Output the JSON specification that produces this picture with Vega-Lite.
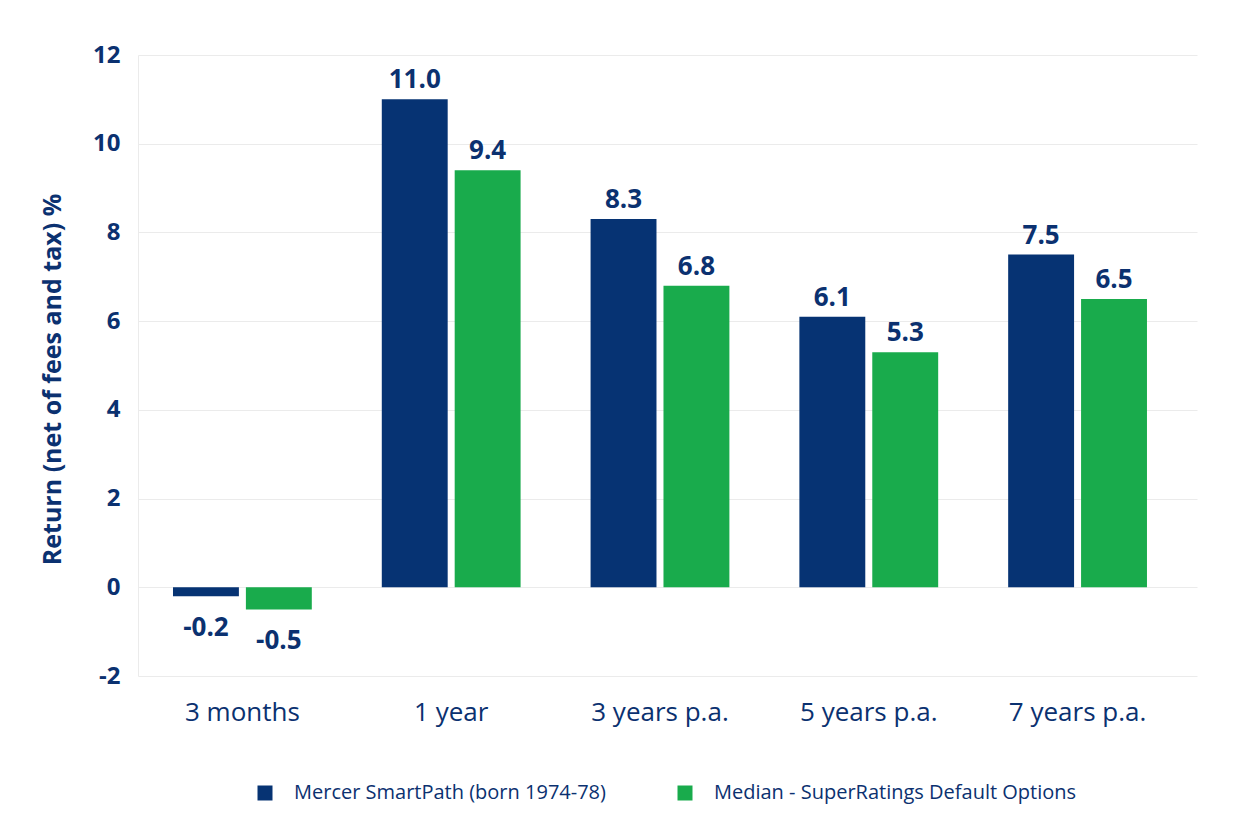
{
  "$schema": "https://vega.github.io/schema/vega-lite/v6.json",
  "width": 1059,
  "height": 621,
  "autosize": {"type": "none"},
  "padding": {"left": 138, "top": 55, "right": 53, "bottom": 155},
  "background": "white",
  "config": {
    "font": "Open Sans",
    "view": {"stroke": null},
    "locale": {
      "number": {"decimal": ".", "thousands": ",", "grouping": [3], "currency": ["$", ""], "minus": "-"}
    }
  },
  "data": {
    "values": [
      {"period": "3 months", "series": "Mercer SmartPath (born 1974-78)", "value": -0.2},
      {"period": "3 months", "series": "Median - SuperRatings Default Options", "value": -0.5},
      {"period": "1 year", "series": "Mercer SmartPath (born 1974-78)", "value": 11.0},
      {"period": "1 year", "series": "Median - SuperRatings Default Options", "value": 9.4},
      {"period": "3 years p.a.", "series": "Mercer SmartPath (born 1974-78)", "value": 8.3},
      {"period": "3 years p.a.", "series": "Median - SuperRatings Default Options", "value": 6.8},
      {"period": "5 years p.a.", "series": "Mercer SmartPath (born 1974-78)", "value": 6.1},
      {"period": "5 years p.a.", "series": "Median - SuperRatings Default Options", "value": 5.3},
      {"period": "7 years p.a.", "series": "Mercer SmartPath (born 1974-78)", "value": 7.5},
      {"period": "7 years p.a.", "series": "Median - SuperRatings Default Options", "value": 6.5}
    ]
  },
  "encoding": {
    "x": {
      "field": "period",
      "type": "nominal",
      "sort": null,
      "scale": {"paddingInner": 0, "paddingOuter": 0.036, "align": 0},
      "axis": {
        "title": null,
        "labelAngle": 0,
        "labelFontSize": 26,
        "labelColor": "#0b3170",
        "labelPadding": 23,
        "labelDx": 3,
        "ticks": false,
        "domain": false,
        "grid": false
      }
    },
    "xOffset": {
      "field": "series",
      "type": "nominal",
      "sort": null,
      "scale": {"paddingInner": 0.096, "paddingOuter": 0.48}
    },
    "y": {
      "field": "value",
      "type": "quantitative",
      "scale": {"domain": [-2, 12], "nice": false, "zero": false},
      "axis": {
        "title": "Return (net of fees and tax) %",
        "titleFontSize": 25,
        "titleFontWeight": "bold",
        "titleColor": "#0b3170",
        "titlePadding": 27,
        "titleY": 324,
        "values": [-2, 0, 2, 4, 6, 8, 10, 12],
        "labelFontSize": 24,
        "labelFontWeight": "bold",
        "labelColor": "#0b3170",
        "labelPadding": 18,
        "ticks": false,
        "domain": true,
        "domainColor": "#ebebeb",
        "grid": true,
        "gridColor": "#ebebeb"
      }
    }
  },
  "layer": [
    {
      "mark": {"type": "bar"},
      "encoding": {
        "color": {
          "field": "series",
          "type": "nominal",
          "sort": null,
          "scale": {
            "domain": ["Mercer SmartPath (born 1974-78)", "Median - SuperRatings Default Options"],
            "range": ["#063373", "#19ab4c"]
          },
          "legend": {
            "title": null,
            "orient": "none",
            "legendX": 117,
            "legendY": 728,
            "direction": "horizontal",
            "symbolType": "square",
            "symbolSize": 225,
            "symbolStrokeWidth": 0,
            "labelFontSize": 20,
            "labelColor": "#0b3170",
            "labelOffset": 19,
            "labelLimit": 0,
            "columnPadding": 69
          }
        }
      }
    },
    {
      "transform": [{"filter": "datum.value >= 0"}],
      "mark": {"type": "text", "baseline": "alphabetic", "dy": -11, "fontSize": 26, "fontWeight": "bold", "color": "#0b3170"},
      "encoding": {
        "text": {"field": "value", "type": "quantitative", "format": ".1f"}
      }
    },
    {
      "transform": [{"filter": "datum.value < 0"}],
      "mark": {"type": "text", "baseline": "alphabetic", "dy": 40, "fontSize": 26, "fontWeight": "bold", "color": "#0b3170"},
      "encoding": {
        "text": {"field": "value", "type": "quantitative", "format": ".1f"}
      }
    }
  ]
}
